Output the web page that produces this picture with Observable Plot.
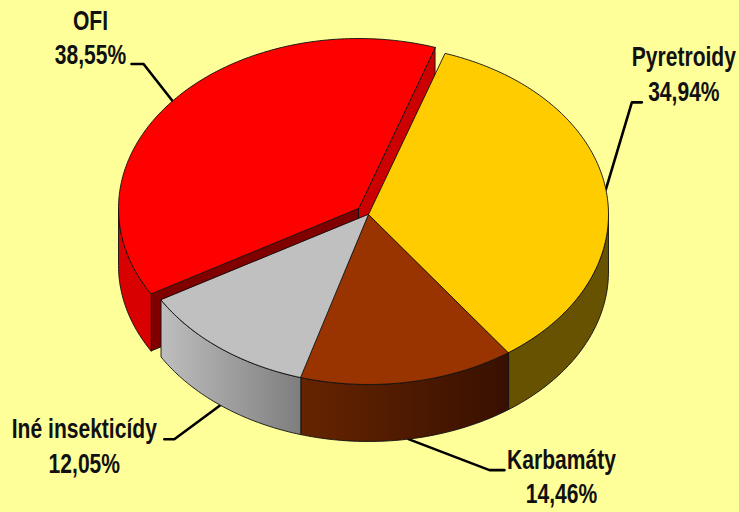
<!DOCTYPE html>
<html><head><meta charset="utf-8">
<script src="https://cdn.jsdelivr.net/npm/d3@7"></script>
<script src="https://cdn.jsdelivr.net/npm/@observablehq/plot@0.6"></script>
<style>html,body{margin:0;padding:0;background:#FFFF99}svg{display:block}</style>
</head><body><div id="chart"></div>
<script>
const categories = ["Pyretroidy", "Karbamáty", "Iné insekticídy", "OFI"];
const shares = [34.94, 14.46, 12.05, 38.55];
const shareLabels = ["34,94%", "14,46%", "12,05%", "38,55%"];

// styling and layout, separate from the data
const topColors = ["#FFCC00", "#993300", "#C0C0C0", "#FF0000"];
const wallFills = ["#665200", "url(#wallBrown)", "url(#wallGrey)", "#D80000"];
const startAngle = 18.6, rx = 240, ry = 170, depth = 57;
const center = [368, 214], explodedCenter = [358, 208];
const leaderElbow = [[26, -87], [81, 31], [-46, 34], [-29, -37]];
const leaderEnd = [[36, -87], [96, 31], [-56, 34], [-41, -37]];
const labelAt = [[78, -117], [153, 36], [-136, 39], [-82, -65]];

const rad = d => d * Math.PI / 180;
const total = d3.sum(shares);
let acc = startAngle;
const slices = categories.map((name, i) => {
  const a0 = acc, a1 = acc + shares[i] / total * 360; acc = a1;
  const c = i === 3 ? explodedCenter : center;
  return {i, name, a0, a1, mid: (a0 + a1) / 2, c};
});
const rim = (s, a, dz = 0) => ({x: s.c[0] + rx * Math.sin(rad(a)), y: s.c[1] - ry * Math.cos(rad(a)) + dz});
const arc = (s, a0, a1, dz = 0) => {
  const n = Math.max(2, Math.ceil(Math.abs(a1 - a0)));
  return d3.range(n + 1).map(k => rim(s, a0 + (a1 - a0) * k / n, dz));
};
const poly = (pts, fill, sw = 0.9) => Plot.line(pts, {
  x: "x", y: "y", curve: "linear-closed", fill, stroke: "#111", strokeWidth: sw, strokeLinejoin: "round"
});
const apex = (s, dz = 0) => ({x: s.c[0], y: s.c[1] + dz});

const gradient = (id, from, to) => `<linearGradient id="${id}" x1="0" x2="1" y1="0" y2="0"><stop offset="0" stop-color="${from}"/><stop offset="1" stop-color="${to}"/></linearGradient>`;
const defsMark = () => {
  const g = document.createElementNS("http://www.w3.org/2000/svg", "defs");
  g.innerHTML = gradient("wallGrey", "#BEBEBE", "#7E7E7E") + gradient("wallBrown", "#662400", "#381000");
  return g;
};

const marks = [defsMark];

// leader lines sit beneath the pie
slices.forEach(s => {
  const front = s.mid > 90 && s.mid < 270;
  const p = rim(s, s.mid, front ? depth : 0);
  const pts = [p, {x: p.x + leaderElbow[s.i][0], y: p.y + leaderElbow[s.i][1]}, {x: p.x + leaderEnd[s.i][0], y: p.y + leaderEnd[s.i][1]}];
  marks.push(Plot.line(pts, {x: "x", y: "y", stroke: "#000", strokeWidth: 2.6, strokeLinejoin: "round"}));
  marks.push(Plot.text([{x: p.x + labelAt[s.i][0], y: p.y + labelAt[s.i][1], t: s.name + "\n" + shareLabels[s.i]}], {
    x: "x", y: "y", text: "t", fontSize: 27, fontWeight: "bold", fontFamily: "'Liberation Sans',sans-serif",
    fill: "#111", lineHeight: 1.28, textAnchor: "middle", className: "pie-label"
  }));
});

// exploded slice first: the rest overlap its cut faces
const ofi = slices[3];
marks.push(poly([rim(ofi, ofi.a1), rim(ofi, ofi.a1, depth), apex(ofi, depth), apex(ofi)], "#CC0000"));
marks.push(poly([rim(ofi, ofi.a0), rim(ofi, ofi.a0, depth), apex(ofi, depth), apex(ofi)], "#800000"));
marks.push(poly([...arc(ofi, ofi.a0, 270), ...arc(ofi, 270, ofi.a0, depth)], wallFills[3]));
marks.push(poly([apex(ofi), ...arc(ofi, ofi.a0, ofi.a1)], topColors[3]));

// remaining slices, walls then tops
slices.slice(0, 3).forEach(s => {
  const a0 = Math.max(s.a0, 90), a1 = Math.min(s.a1, 270);
  marks.push(poly([...arc(s, a0, a1), ...arc(s, a1, a0, depth)], wallFills[s.i]));
});
slices.slice(0, 3).forEach(s => {
  marks.push(poly([apex(s), ...arc(s, s.a0, s.a1)], topColors[s.i]));
});

const chart = Plot.plot({
  width: 739, height: 512, margin: 0,
  x: {domain: [0, 739], range: [0, 739], axis: null},
  y: {domain: [0, 512], range: [0, 512], axis: null},
  style: {background: "#FFFF99"},
  marks
});
// the reference lettering is a condensed face: narrow the real text horizontally
chart.querySelectorAll(".pie-label text").forEach(t => {
  t.setAttribute("transform", (t.getAttribute("transform") || "") + " scale(0.78,1)");
});
document.getElementById("chart").append(chart);
</script></body></html>
